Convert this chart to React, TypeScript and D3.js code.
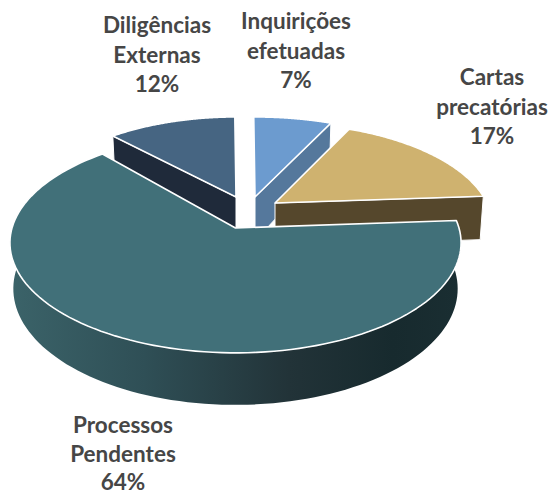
import React from "react";
import * as d3 from "d3";

const names = ["Processos Pendentes", "Diligências Externas", "Inquirições efetuadas", "Cartas precatórias"];
const values = [64, 12, 7, 17];
const labelLines = [["Processos", "Pendentes", "64%"], ["Diligências", "Externas", "12%"], ["Inquirições", "efetuadas", "7%"], ["Cartas", "precatórias", "17%"]];
const capColors = ["#417079", "#466582", "#6c9bcf", "#cfb26f"];
const sideColors = ["url(#mainSide)", "#1f2a3a", "#55789c", "#55472c"];

const W = 553, H = 495;
const startDeg = 86;
const rad = Math.PI / 180;
// layout per slice: apex, projection terms, depth, which edge shows, end-angle trim
const geom = [
  { ax: 235.5, ay: 228, A: 108, B: 223.5, k: 0.135, D: 45, side: "arc", trim: -2.6 },
  { ax: 236, ay: 197, A: 97.6, B: 207, k: 0.2195, D: 44, side: "start", trim: 0 },
  { ax: 255, ay: 197, A: 97.6, B: 217, k: 0.2195, D: 44, side: "end", trim: 0 },
  { ax: 275, ay: 203, A: 97.6, B: 212, k: 0.2195, D: 44, side: "end", trim: 0 },
];
const labelPos = [
  { x: 123, y: 433, step: 28.5 }, { x: 157, y: 33, step: 29.7 }, { x: 296, y: 29, step: 29.7 }, { x: 492, y: 85, step: 29.7 },
];
const drawOrder = [2, 1, 3, 0];

const pie = d3.pie<number>().sort(null).startAngle(startDeg * rad).endAngle((startDeg + 360) * rad);
const arcs = pie(values);
const line = d3.line<[number, number]>();

type G = typeof geom[number];
const top = (g: G, t: number): [number, number] => {
  const s = Math.sin(t), c = Math.cos(t), f = 1 + g.k * c;
  return [g.ax + (g.B * s) / f, g.ay - (g.A * c) / f];
};
const bottom = (g: G, t: number): [number, number] => {
  const c = Math.cos(t), f = 1 + g.k * c;
  const [x, y] = top(g, t);
  return [g.ax + (x - g.ax) * 0.985, y + g.D / f];
};
const samples = (a: number, b: number) => d3.range(0, 121).map((i) => a + ((b - a) * i) / 120);

export default function App() {
  return (
    <svg width={W} height={H} viewBox={`0 0 ${W} ${H}`} style={{ position: "absolute", left: 0, top: 0, background: "#fff" }}>
      <defs>
        <linearGradient id="mainSide" gradientUnits="userSpaceOnUse" x1={10} x2={460} y1={0} y2={0}>
          <stop offset="0" stopColor="#3b6369" />
          <stop offset="0.3" stopColor="#2f4f56" />
          <stop offset="0.62" stopColor="#223338" />
          <stop offset="0.85" stopColor="#172a2e" />
          <stop offset="1" stopColor="#1a2e32" />
        </linearGradient>
      </defs>
      {drawOrder.map((i) => {
        const g = geom[i], a = arcs[i];
        const pts = samples(a.startAngle, a.endAngle - g.trim * rad);
        const cap = [[g.ax, g.ay] as [number, number], ...pts.map((t) => top(g, t))];
        let side: [number, number][];
        if (g.side === "arc") {
          side = [...pts.map((t) => top(g, t)), ...pts.slice().reverse().map((t) => bottom(g, t))];
        } else {
          const t = g.side === "start" ? a.startAngle : a.endAngle;
          side = [[g.ax, g.ay], top(g, t), bottom(g, t), [g.ax, g.ay + g.D]];
        }
        return (
          <g key={names[i]}>
            <path d={line(side) + "Z"} fill={sideColors[i]} stroke="#fff" strokeWidth={g.side === "arc" ? 0 : 1} />
            <path d={line(cap) + "Z"} fill={capColors[i]} stroke="#fff" strokeWidth={1.6} strokeLinejoin="round" />
          </g>
        );
      })}
      {labelLines.map((lines, i) => (
        <text key={names[i]} textAnchor="middle" fontFamily="Lato, 'Noto Sans', sans-serif" fontWeight={700} fontSize={22.5} fill="#464646">
          {lines.map((l, j) => (
            <tspan key={l} x={labelPos[i].x} y={labelPos[i].y + j * labelPos[i].step}>{l}</tspan>
          ))}
        </text>
      ))}
    </svg>
  );
}
